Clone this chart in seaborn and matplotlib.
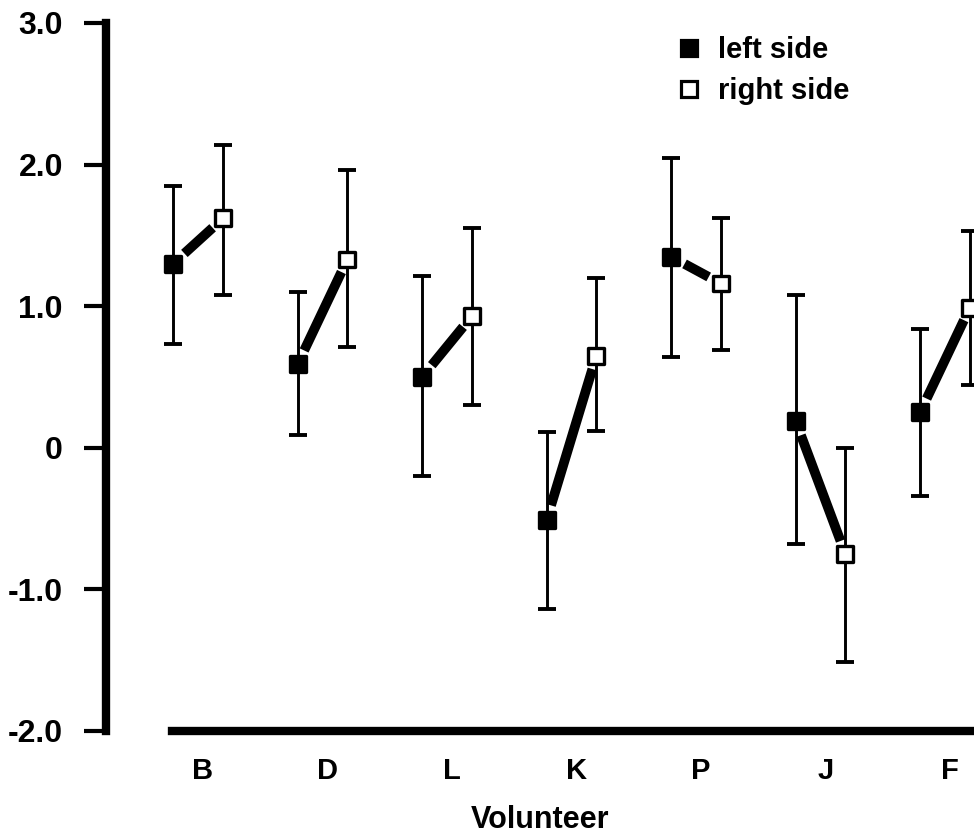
import matplotlib
matplotlib.use("Agg")
import matplotlib.pyplot as plt
from matplotlib.lines import Line2D
import numpy as np
import pandas as pd
import seaborn as sns

# Volunteers and per-side means with error-bar limits
volunteers = ["B", "D", "L", "K", "P", "J", "F"]
left_mean = [1.30, 0.59, 0.50, -0.51, 1.35, 0.19, 0.25]
left_low = [0.73, 0.09, -0.20, -1.14, 0.64, -0.68, -0.34]
left_high = [1.85, 1.10, 1.21, 0.11, 2.05, 1.08, 0.84]
right_mean = [1.62, 1.33, 0.93, 0.65, 1.16, -0.75, 0.99]
right_low = [1.08, 0.71, 0.30, 0.12, 0.69, -1.51, 0.44]
right_high = [2.14, 1.96, 1.55, 1.20, 1.62, 0.00, 1.53]

ytick_values = [-2, -1, 0, 1, 2, 3]
ytick_labels = ["-2.0", "-1.0", "0", "1.0", "2.0", "3.0"]

sns.set_style("ticks")
plt.rcParams["font.family"] = ["Liberation Sans", "DejaVu Sans"]
plt.rcParams["font.weight"] = "bold"
plt.rcParams["text.color"] = "black"
plt.rcParams["axes.labelcolor"] = "black"

idx = np.arange(len(volunteers))
offset = 0.2
df = pd.concat([
    pd.DataFrame({"volunteer": volunteers, "side": "left side", "x": idx - offset,
                  "mean": left_mean, "low": left_low, "high": left_high}),
    pd.DataFrame({"volunteer": volunteers, "side": "right side", "x": idx + offset,
                  "mean": right_mean, "low": right_low, "high": right_high}),
], ignore_index=True)

fig = plt.figure(figsize=(9.74, 8.36), dpi=100)
ax = fig.add_axes([106 / 974, 105 / 836, 868 / 974, 708 / 836])

# error bars
for _, sub in df.groupby("side"):
    ax.errorbar(sub["x"], sub["mean"],
                yerr=[sub["mean"] - sub["low"], sub["high"] - sub["mean"]],
                fmt="none", ecolor="black", elinewidth=2.1,
                capsize=6.5, capthick=2.8, clip_on=False, zorder=2)

# thick connectors between the two sides of each volunteer
for i in idx:
    ax.annotate("", xy=(i + offset, right_mean[i]), xytext=(i - offset, left_mean[i]),
                arrowprops=dict(arrowstyle="-", lw=7, color="black",
                                shrinkA=11, shrinkB=10, capstyle="butt"),
                annotation_clip=False, zorder=3)

# square markers
sns.scatterplot(data=df, x="x", y="mean", hue="side",
                palette={"left side": "black", "right side": "white"},
                marker="s", s=130, edgecolor="black", linewidth=2.4,
                legend=False, ax=ax, zorder=4, clip_on=False)

ax.set_xlim(-0.739, 6.233)
ax.set_ylim(-2, 3)
ax.set_yticks(ytick_values)
ax.set_yticklabels(ytick_labels)
ax.set_xticks(idx + 0.04)
ax.set_xticklabels(volunteers)

for lab in ax.get_yticklabels() + ax.get_xticklabels():
    lab.set_fontweight("bold")
ax.tick_params(axis="y", length=16, width=3, pad=15, labelsize=23, color="black",
               labelcolor="black")
ax.tick_params(axis="x", length=0, pad=19, labelsize=21, labelcolor="black")

ax.spines["right"].set_visible(False)
ax.spines["top"].set_visible(False)
ax.spines["left"].set_linewidth(6)
ax.spines["left"].set_color("black")
ax.spines["left"].set_bounds(-2, 3)
ax.spines["bottom"].set_linewidth(6)
ax.spines["bottom"].set_color("black")
ax.spines["bottom"].set_bounds(-0.21, 6.233)

ax.set_xlabel("Volunteer", fontsize=22, fontweight="bold", labelpad=14, color="black")
ax.set_ylabel("")

handles = [
    Line2D([], [], linestyle="none", marker="s", markersize=11, markeredgewidth=2.3,
           markerfacecolor="black", markeredgecolor="black", label="left side"),
    Line2D([], [], linestyle="none", marker="s", markersize=11, markeredgewidth=2.3,
           markerfacecolor="white", markeredgecolor="black", label="right side"),
]
leg = fig.legend(handles=handles, loc="upper left",
                 bbox_to_anchor=(674 / 974, 1 - 36 / 836),
                 frameon=False, handlelength=1.0, handletextpad=0.5,
                 labelspacing=0.45, borderpad=0, borderaxespad=0,
                 prop={"size": 21, "weight": "bold"})
for t in leg.get_texts():
    t.set_color("black")

fig.savefig("out.png", dpi=100, facecolor="white")
